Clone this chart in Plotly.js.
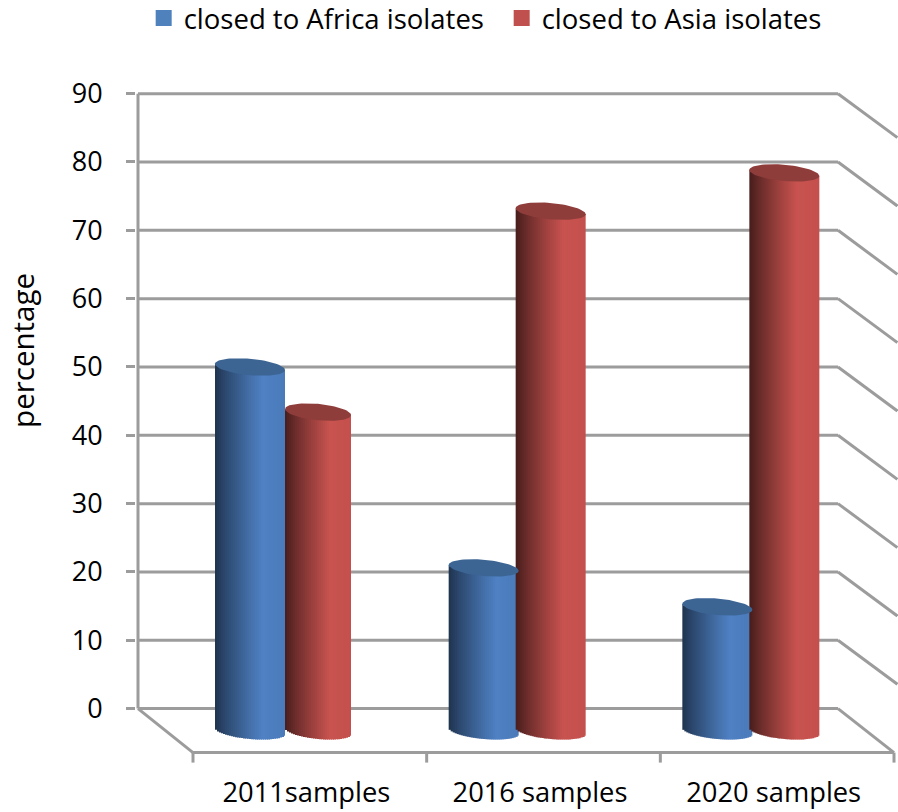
<!DOCTYPE html>
<html>
<head>
<meta charset="utf-8">
<script src="https://cdn.plot.ly/plotly-3.0.1.min.js"></script>
<style>html,body{margin:0;padding:0;background:#fff}#chart{width:898px;height:812px}</style>
</head>
<body>
<div id="chart"></div>
<script>
// ---- data ----
var categories = ['2011samples', '2016 samples', '2020 samples'];
var africa = [50, 20.6, 14.9];
var asia = [43.4, 72.8, 78.4];
var yTicks = [0, 10, 20, 30, 40, 50, 60, 70, 80, 90];
var seriesNames = ['closed to Africa isolates', 'closed to Asia isolates'];

// ---- geometry / style ----
var PXX = 233.67, PXY = 6.833;           // pixels per axis unit
var FONT = '"Open Sans", sans-serif';
var X0 = 193, Y0 = 708.7;                // pixel of x=0 and y=0
var plotL = 136, plotR = 898;
var xRange = [(plotL - X0) / PXX, (plotR - X0) / PXX];
var yRange = [-8.4, 92];
var depthX = 55 / PXX, depthY = 44 / PXY;
var backL = (138 - X0) / PXX, backR = (838 - X0) / PXX;
var floorR = (894 - X0) / PXX;
var baseLevel = -3.25;
var HALF = 35 / PXX, OFF_BLUE = 57 / PXX, OFF_RED = 124 / PXX;
var EB = 8.2, ES = 3;                    // ellipse half height and shear, px
var STEP = 2, OVER = 3;                  // stripe pitch and stripe width, px
var GRID = '#9c9c9c', GW = 3;

function mix(a, b, t) {
  return 'rgb(' + a.map(function (v, i) { return Math.round(v + (b[i] - v) * t); }).join(',') + ')';
}
var palette = {
  blue: {dark: [30, 50, 76], mid: [79, 129, 196], end: [74, 122, 184], cap: '#3c6594', flat: '#4f81bd'},
  red: {dark: [68, 28, 27], mid: [200, 83, 79], end: [196, 80, 77], cap: '#8f3d3b', flat: '#c0504d'}
};

function cylinder(cx, value, p, hw) {
  var xs = [], ys = [], bases = [], cols = [], ws = [];
  var full = hw * 2 * PXX, n = Math.round(full / STEP);
  for (var i = 0; i < n; i++) {
    var leftPx = i * STEP;
    var wPx = Math.min(OVER, full - leftPx);
    var midPx = leftPx + STEP / 2;
    var u = midPx / full * 2 - 1;
    var t = midPx / full;
    var edge = Math.sqrt(Math.max(0, 1 - u * u));
    var bot = baseLevel - (ES * u + EB * edge) / PXY;
    var top = value - ES * u / PXY;
    xs.push(cx - hw + (leftPx + wPx / 2) / PXX);
    ws.push(wPx / PXX);
    bases.push(bot);
    ys.push(top - bot);
    cols.push(t < 0.68 ? mix(p.dark, p.mid, Math.pow(t / 0.68, 0.85)) : mix(p.mid, p.end, (t - 0.68) / 0.32));
  }
  return {
    type: 'bar', x: xs, y: ys, base: bases, width: ws,
    marker: {color: cols, line: {width: 0}}, showlegend: false, hoverinfo: 'skip'
  };
}
function cap(cx, value, p, hw) {
  var xs = [], ys = [];
  for (var i = 0; i <= 72; i++) {
    var a = i / 72 * 2 * Math.PI;
    xs.push(cx + hw * Math.cos(a));
    ys.push(value - (ES * Math.cos(a) + EB * Math.sin(a)) / PXY);
  }
  return {
    type: 'scatter', mode: 'lines', x: xs, y: ys, fill: 'toself', fillcolor: p.cap,
    line: {width: 0, color: p.cap}, showlegend: false, hoverinfo: 'skip'
  };
}

var traces = [];
var centers = categories.map(function (c, i) { return i; });
// plain series bars (covered by the shaded stripes)
traces.push({type: 'bar', name: seriesNames[0], x: centers.map(function (i) { return i + OFF_BLUE; }), y: africa,
  width: HALF, marker: {color: palette.blue.flat}, showlegend: false});
traces.push({type: 'bar', name: seriesNames[1], x: centers.map(function (i) { return i + OFF_RED; }), y: asia,
  width: HALF, marker: {color: palette.red.flat}, showlegend: false});
// legend entries
traces.push({type: 'scatter', mode: 'markers', name: seriesNames[0], x: [null], y: [null],
  marker: {symbol: 'square', size: 19, color: palette.blue.flat}});
traces.push({type: 'scatter', mode: 'markers', name: seriesNames[1], x: [null], y: [null],
  marker: {symbol: 'square', size: 19, color: palette.red.flat}});

categories.forEach(function (c, i) {
  var b = [i + OFF_BLUE, africa[i], palette.blue, HALF];
  // the first red cylinder sits partly behind the blue one
  var r = i === 0 ? [i + OFF_RED + 1 / PXX, asia[i], palette.red, 33 / PXX]
                  : [i + OFF_RED, asia[i], palette.red, HALF];
  var order = i === 0 ? [r, b] : [b, r];
  order.forEach(function (o) { traces.push(cylinder(o[0], o[1], o[2], o[3])); });
  order.forEach(function (o) { traces.push(cap(o[0], o[1], o[2], o[3])); });
});

// wall, floor and ticks of the pseudo-3D frame
var shapes = [];
function seg(x0, y0, x1, y1) {
  shapes.push({type: 'line', layer: 'below', xref: 'x', yref: 'y', x0: x0, y0: y0, x1: x1, y1: y1,
    line: {color: GRID, width: GW}});
}
yTicks.forEach(function (v) {
  seg(backL, v, backR, v);
  if (v > 0) seg(backR, v, backR + depthX * 1.08, v - depthY * 1.0);
});
seg(backL, 0, backL, 90);
seg(backL, 0, 0, -depthY);
seg(backR, 0, floorR, -depthY);
seg(0, -depthY, floorR, -depthY);
[0, 1, 2, 3].forEach(function (i) {
  var x = i === 3 ? floorR : i;
  seg(x, -depthY, x, -depthY - 10 / PXY);
});

var layout = {
  width: 898, height: 812,
  paper_bgcolor: '#fff', plot_bgcolor: 'rgba(0,0,0,0)',
  margin: {l: plotL, r: 0, t: Y0 - 92 * PXY, b: 812 - (Y0 + 8.4 * PXY), pad: 0},
  barmode: 'overlay',
  font: {family: FONT, color: '#000', size: 27},
  showlegend: true,
  legend: {orientation: 'h', xref: 'container', yref: 'container', x: 0.16, y: 1 - 18 / 812, xanchor: 'left', yanchor: 'middle',
    font: {family: FONT, size: 27.5, color: '#000'}, bgcolor: 'rgba(0,0,0,0)', itemwidth: 30,
    entrywidth: 313, entrywidthmode: 'pixels', itemclick: false, itemdoubleclick: false},
  xaxis: {
    range: xRange, showgrid: false, zeroline: false, showline: false,
    tickmode: 'array', tickvals: [0.485, 1.485, 2.485], ticktext: categories,
    ticks: 'outside', ticklen: 2, tickcolor: 'rgba(0,0,0,0)', tickangle: 0,
    tickfont: {family: FONT, size: 27.3, color: '#000'}, fixedrange: true
  },
  yaxis: {
    range: yRange, showgrid: false, zeroline: false, showline: false,
    tickmode: 'array', tickvals: yTicks, ticktext: yTicks.map(String),
    ticks: 'outside', ticklen: 9, tickwidth: GW, tickcolor: GRID, ticklabelstandoff: 18,
    tickfont: {family: FONT, size: 27, color: '#000'}, fixedrange: true
  },
  annotations: [{
    text: 'percentage', xref: 'paper', yref: 'paper', showarrow: false, textangle: -90,
    x: (23 - plotL) / (plotR - plotL), xanchor: 'center', borderpad: 0,
    y: (Y0 + 8.4 * PXY - 351) / ((92 + 8.4) * PXY), yanchor: 'middle',
    font: {family: FONT, size: 29.5, color: '#000'}
  }],
  shapes: shapes
};
Plotly.newPlot('chart', traces, layout, {displayModeBar: false, responsive: false});
</script>
</body>
</html>
